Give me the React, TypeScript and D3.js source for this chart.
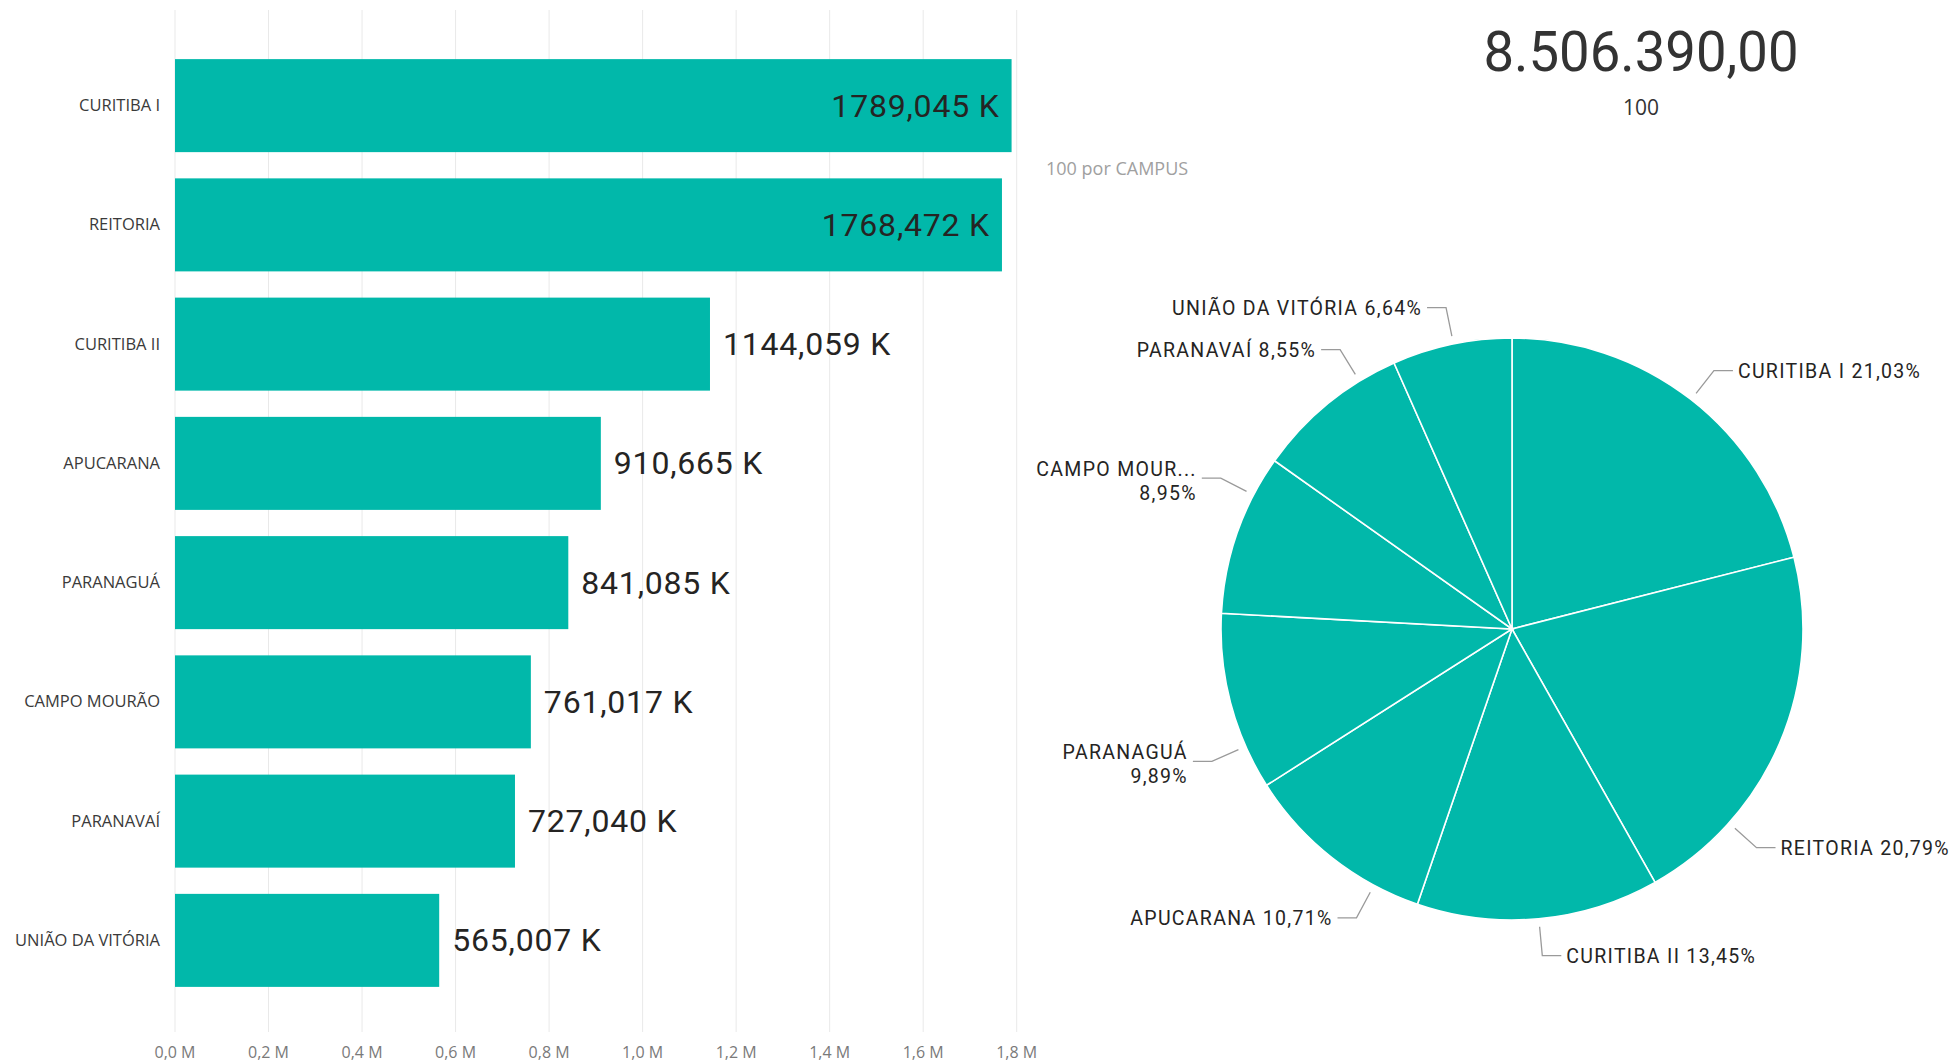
import React from "react";
import * as d3 from "d3";

// ---- data ----
const categories = [
  "CURITIBA I",
  "REITORIA",
  "CURITIBA II",
  "APUCARANA",
  "PARANAGUÁ",
  "CAMPO MOURÃO",
  "PARANAVAÍ",
  "UNIÃO DA VITÓRIA",
];
const valuesK = [1789.045, 1768.472, 1144.059, 910.665, 841.085, 761.017, 727.04, 565.007];
const xTicks = [0, 200000, 400000, 600000, 800000, 1000000, 1200000, 1400000, 1600000, 1800000];
const pieNames = [
  "CURITIBA I",
  "REITORIA",
  "CURITIBA II",
  "APUCARANA",
  "PARANAGUÁ",
  "CAMPO MOUR...",
  "PARANAVAÍ",
  "UNIÃO DA VITÓRIA",
];
const cardSubtitle = "100";
const pieTitle = "100 por CAMPUS";

// ---- layout (label placement of the pie, degrees clockwise from top) ----
const leaderAngles = [38, 131.8, 174.7, 208.3, 246.2, 297.4, 328.4, 348.4];
const twoLineLabels = [false, false, false, false, true, true, false, false];

const W = 1952;
const H = 1062;
const TEAL = "#01B8AA";
const DARK = "#252423";

const ptLocale = d3.formatLocale({
  decimal: ",",
  thousands: ".",
  grouping: [3],
  currency: ["", ""],
});

export default function App() {
  const values = valuesK.map((v) => v * 1000);
  const total = d3.sum(values);

  const x = d3.scaleLinear().domain([0, 1800000]).range([175, 1016.7]);
  const y = d3
    .scaleBand<string>()
    .domain(categories)
    .range([46, 1000])
    .paddingInner(0.22)
    .paddingOuter(0.11);

  const cx = 1512;
  const cy = 629;
  const R = 291;
  const pie = d3
    .pie<number>()
    .sort(null)
    .value((d) => d)
    .startAngle(0)
    .endAngle(2 * Math.PI);
  const arcs = pie(values);
  const arcGen = d3.arc<d3.PieArcDatum<number>>().innerRadius(0).outerRadius(R);

  const pct = (v: number) => (v / total * 100).toFixed(2).replace(".", ",") + "%";
  const fmtK = (v: number) => (v / 1000).toFixed(3).replace(".", ",") + " K";
  const fmtTick = (t: number) => d3.format(".1f")(t / 1e6).replace(".", ",") + " M";

  const pieFont = {
    fontFamily: "Roboto, 'DejaVu Sans', sans-serif",
    fontSize: 19.5,
    fontWeight: 400,
    letterSpacing: 1.3,
    fill: DARK,
  } as const;

  return (
    <svg
      width={W}
      height={H}
      viewBox={`0 0 ${W} ${H}`}
      style={{ position: "absolute", left: 0, top: 0, display: "block", background: "#fff" }}
    >
      {/* gridlines */}
      {xTicks.map((t) => (
        <line key={"g" + t} x1={x(t)} x2={x(t)} y1={10} y2={1032} stroke="#e9e9e9" strokeWidth={1} />
      ))}
      {/* tick labels */}
      {xTicks.map((t) => (
        <text
          key={"t" + t}
          x={x(t)}
          y={1058}
          textAnchor="middle"
          fontFamily="'Open Sans', sans-serif"
          fontSize={16}
          fill="#7a7a7a"
        >
          {fmtTick(t)}
        </text>
      ))}
      {/* bars */}
      {categories.map((c, i) => {
        const v = values[i];
        const y0 = y(c) as number;
        const bw = y.bandwidth();
        const xe = x(v);
        const inside = xe + 180 > x(1800000);
        return (
          <g key={c}>
            <rect x={x(0)} y={y0} width={xe - x(0)} height={bw} fill={TEAL} />
            <text
              x={160}
              y={y0 + bw / 2 + 5.5}
              textAnchor="end"
              fontFamily="'Open Sans', sans-serif"
              fontSize={16.5}
              fill="#3a3a3a"
            >
              {c}
            </text>
            <text
              x={inside ? xe - 12 : xe + 13}
              y={y0 + bw / 2 + 11}
              textAnchor={inside ? "end" : "start"}
              fontFamily="Roboto, sans-serif"
              fontSize={32}
              fontWeight={400}
              letterSpacing={0.8}
              fill={DARK}
            >
              {fmtK(v)}
            </text>
          </g>
        );
      })}

      {/* card */}
      <text
        x={1641}
        y={71}
        textAnchor="middle"
        fontFamily="Roboto, sans-serif"
        fontSize={56}
        fill="#333"
        textLength={315}
        lengthAdjust="spacingAndGlyphs"
      >
        {ptLocale.format(",.2f")(total)}
      </text>
      <text x={1641} y={115} textAnchor="middle" fontFamily="'Open Sans', sans-serif" fontSize={21} fill="#333">
        {cardSubtitle}
      </text>

      {/* pie title */}
      <text x={1046} y={175} fontFamily="'Open Sans', sans-serif" fontSize={18} fill="#a0a0a0">
        {pieTitle}
      </text>

      {/* pie */}
      <g transform={`translate(${cx},${cy})`}>
        {arcs.map((a, i) => (
          <path key={"s" + i} d={arcGen(a) as string} fill={TEAL} stroke="#fff" strokeWidth={1.6} />
        ))}
      </g>

      {/* pie labels */}
      {arcs.map((a, i) => {
        const ang = (leaderAngles[i] * Math.PI) / 180;
        const sx = cx + (R + 8) * Math.sin(ang);
        const sy = cy - (R + 8) * Math.cos(ang);
        const ex = cx + (R + 37) * Math.sin(ang);
        const ey = cy - (R + 37) * Math.cos(ang);
        const right = ex > cx;
        const hx = right ? ex + 19 : ex - 19;
        const tx = right ? hx + 5 : hx - 5;
        const anchor = right ? "start" : "end";
        const p = pct(values[i]);
        return (
          <g key={"l" + i}>
            <polyline
              points={`${sx},${sy} ${ex},${ey} ${hx},${ey}`}
              fill="none"
              stroke="#9a9a9a"
              strokeWidth={1.3}
            />
            {twoLineLabels[i] ? (
              <text textAnchor={anchor} {...pieFont}>
                <tspan x={tx} y={ey - 2}>
                  {pieNames[i]}
                </tspan>
                <tspan x={tx} y={ey + 22}>
                  {p}
                </tspan>
              </text>
            ) : (
              <text x={tx} y={ey + 7} textAnchor={anchor} {...pieFont}>
                {pieNames[i] + " " + p}
              </text>
            )}
          </g>
        );
      })}
    </svg>
  );
}
